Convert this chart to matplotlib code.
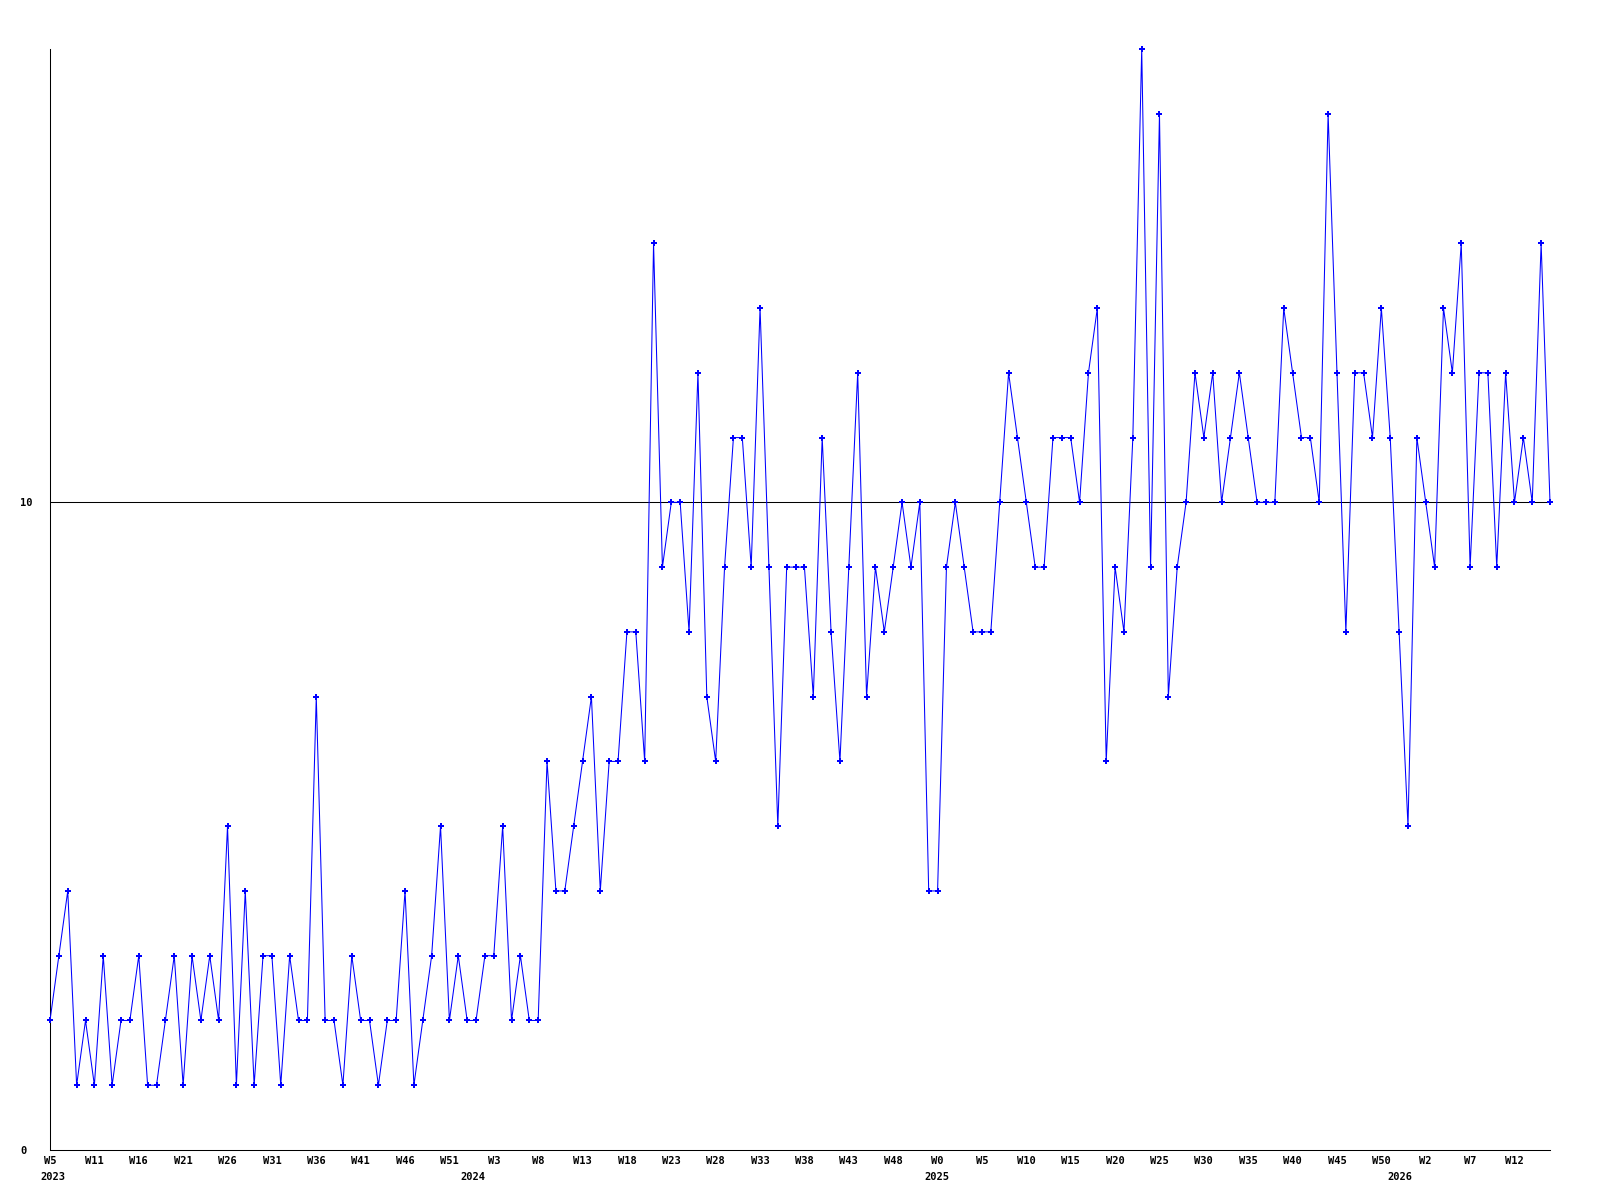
import numpy as np
import pandas as pd
import matplotlib
matplotlib.use("Agg")
import matplotlib.pyplot as plt

# weekly counts, 2023 W5 .. 2026 W15
values = [
    2, 3, 4, 1, 2, 1, 3, 1, 2, 2,
    3, 1, 1, 2, 3, 1, 3, 2, 3, 2,
    5, 1, 4, 1, 3, 3, 1, 3, 2, 2,
    7, 2, 2, 1, 3, 2, 2, 1, 2, 2,
    4, 1, 2, 3, 5, 2, 3, 2, 2, 3,
    3, 5, 2, 3, 2, 2, 6, 4, 4, 5,
    6, 7, 4, 6, 6, 8, 8, 6, 14, 9,
    10, 10, 8, 12, 7, 6, 9, 11, 11, 9,
    13, 9, 5, 9, 9, 9, 7, 11, 8, 6,
    9, 12, 7, 9, 8, 9, 10, 9, 10, 4,
    4, 9, 10, 9, 8, 8, 8, 10, 12, 11,
    10, 9, 9, 11, 11, 11, 10, 12, 13, 6,
    9, 8, 11, 17, 9, 16, 7, 9, 10, 12,
    11, 12, 10, 11, 12, 11, 10, 10, 10, 13,
    12, 11, 11, 10, 16, 12, 8, 12, 12, 11,
    13, 11, 8, 5, 11, 10, 9, 13, 12, 14,
    9, 12, 12, 9, 12, 10, 11, 10, 14, 10,
]
week_labels = ["W5", "W11", "W16", "W21", "W26", "W31", "W36", "W41", "W46", "W51",
               "W3", "W8", "W13", "W18", "W23", "W28", "W33", "W38", "W43", "W48",
               "W0", "W5", "W10", "W15", "W20", "W25", "W30", "W35", "W40", "W45",
               "W50", "W2", "W7", "W12"]
years = ["2023", "2024", "2025", "2026"]
start_date = pd.Timestamp("2023-01-29")

x = np.arange(len(values))

fig = plt.figure(figsize=(16, 12), dpi=100)
ax = fig.add_axes([50 / 1600, 50 / 1200, 1500 / 1600, 1101 / 1200])

ax.axhline(10, color="black", lw=0.75, zorder=1)
ax.plot(x, values, color="#0000ff", lw=0.75, marker="P", ms=4.5, mew=0,
        clip_on=False, zorder=3)

ax.set_xlim(0, len(values) - 1)
ax.set_ylim(0, 17)

for s in ["top", "right"]:
    ax.spines[s].set_visible(False)
for s in ["left", "bottom"]:
    ax.spines[s].set_color("black")
    ax.spines[s].set_linewidth(0.75)

font = dict(family="DejaVu Sans Mono", weight="bold", size=7.5)

ax.set_yticks([0, 10])
ax.set_yticklabels(["0", "10"], **font)
ax.tick_params(axis="y", length=0, pad=21.6)
for lab in ax.get_yticklabels():
    lab.set_horizontalalignment("left")

ax.set_xticks(x[::5])
ax.set_xticklabels(week_labels, **font)
ax.tick_params(axis="x", length=0, pad=4)

# year labels near 1 January of each year (first one clipped to the start)
for yr in years:
    pos = (pd.Timestamp(f"{yr}-01-01") - start_date).days / 7 - 0.5
    pos = max(pos, 0.3)
    ax.annotate(yr, xy=(pos, 0), xycoords=("data", "axes fraction"),
                xytext=(0, -15.5), textcoords="offset points",
                ha="center", va="top", annotation_clip=False, **font)

fig.savefig("out.png", dpi=100, facecolor="white")
